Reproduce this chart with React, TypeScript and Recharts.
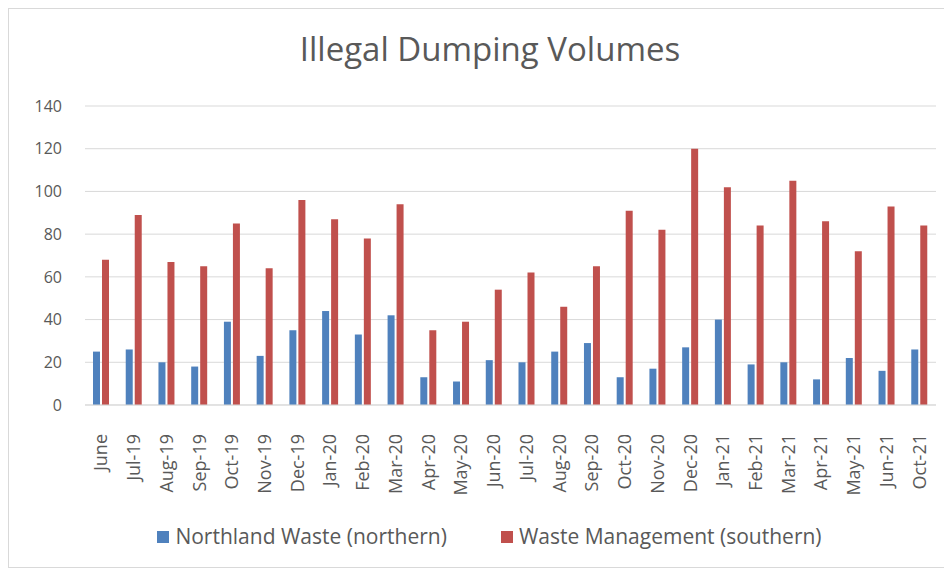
import React from "react";
import { BarChart, Bar, XAxis, YAxis, CartesianGrid, Legend } from "recharts";

const months = ["June","Jul-19","Aug-19","Sep-19","Oct-19","Nov-19","Dec-19","Jan-20","Feb-20","Mar-20","Apr-20","May-20","Jun-20","Jul-20","Aug-20","Sep-20","Oct-20","Nov-20","Dec-20","Jan-21","Feb-21","Mar-21","Apr-21","May-21","Jun-21","Oct-21"];
const northland = [25,26,20,18,39,23,35,44,33,42,13,11,21,20,25,29,13,17,27,40,19,20,12,22,16,26];
const wasteMgmt = [68,89,67,65,85,64,96,87,78,94,35,39,54,62,46,65,91,82,120,102,84,105,86,72,93,84];
const yTicks = [0,20,40,60,80,100,120,140];

const data = months.map((m, i) => ({ month: m, northland: northland[i], waste: wasteMgmt[i] }));

const FONT = "'Open Sans', sans-serif";
const TEXT = "#595959";

const XTick = (props: any) => {
  const { x, y, payload } = props;
  return (
    <g transform={`translate(${x},${y})`}>
      <text x={0} y={0} dy={6} dx={-21} textAnchor="end" transform="rotate(-90)" fill={TEXT} fontSize={18} fontFamily={FONT}>
        {payload.value}
      </text>
    </g>
  );
};

const LegendContent = (props: any) => {
  const { payload } = props;
  return (
    <div style={{ display: "flex", justifyContent: "center", fontFamily: FONT, fontSize: 21, color: TEXT, paddingLeft: 34, lineHeight: "29px" }}>
      {payload.map((p: any, i: number) => (
        <div key={i} style={{ display: "flex", alignItems: "center", marginRight: i === 0 ? 54 : 0 }}>
          <span style={{ width: 12, height: 12, background: p.color, display: "inline-block", marginRight: 6 }} />
          <span>{p.value}</span>
        </div>
      ))}
    </div>
  );
};

export default function App() {
  return (
    <div style={{ position: "relative", width: 936, height: 558, border: "1px solid #d9d9d9", background: "#fff" }}>
      <div style={{ position: "absolute", top: 17, left: 0, width: 962, textAlign: "center", fontFamily: FONT, fontSize: 33, color: TEXT, fontWeight: 400 }}>
        Illegal Dumping Volumes
      </div>
      <BarChart width={936} height={558} data={data} margin={{ top: 97, right: 9, left: 0, bottom: 16 }} barSize={7} barGap={2}>
        <CartesianGrid vertical={false} stroke="#d9d9d9" />
        <XAxis dataKey="month" tick={<XTick />} tickLine={false} axisLine={{ stroke: "#d9d9d9" }} height={117} interval={0} />
        <YAxis domain={[0, 140]} ticks={yTicks} width={76} tickLine={false} axisLine={false} tickMargin={17}
          tick={{ fill: TEXT, fontSize: 16, fontFamily: FONT }} />
        <Legend verticalAlign="bottom" content={<LegendContent />} />
        <Bar dataKey="northland" name="Northland Waste (northern)" fill="#4F81BD" isAnimationActive={false} />
        <Bar dataKey="waste" name="Waste Management (southern)" fill="#C0504D" isAnimationActive={false} />
      </BarChart>
    </div>
  );
}
